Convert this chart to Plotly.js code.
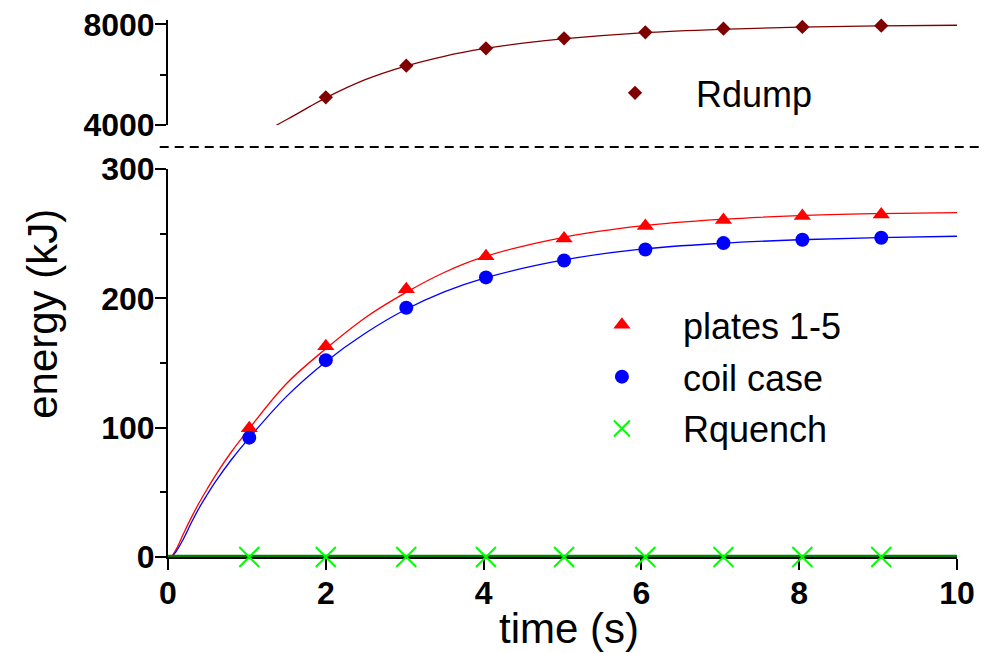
<!DOCTYPE html>
<html>
<head>
<meta charset="utf-8">
<script src="https://cdn.plot.ly/plotly-3.0.1.min.js"></script>
<style>
html,body{margin:0;padding:0;background:#fff;}
#chart{width:993px;height:653px;}
</style>
</head>
<body>
<div id="chart"></div>
<script>
// ---- data ----
const times = [1.03, 2.0, 3.02, 4.03, 5.02, 6.05, 7.04, 8.04, 9.04];
const platesVals = [99.5, 163, 207, 232.5, 246.3, 255.9, 260.5, 263.7, 264.9];
const coilVals = [92.3, 152.2, 192.7, 216.2, 229.3, 237.8, 242.7, 245.3, 246.9];
const rquenchVals = [0, 0, 0, 0, 0, 0, 0, 0, 0];
const rdumpTimes = [2.0, 3.02, 4.03, 5.02, 6.05, 7.04, 8.04, 9.04];
const rdumpVals = [5100, 6355, 7047, 7444, 7683, 7826, 7894, 7946];

// fitted curves
const curveT = [0, 0.05, 0.1, 0.2, 0.3, 0.4, 0.5, 0.6, 0.8, 1.0, 1.5, 2, 2.5, 3, 3.5, 4, 5, 6, 7, 8, 9, 10];
const platesFit = [0, 1, 5.5, 18.5, 31, 42.5, 53, 63, 81, 97, 134, 161, 185, 204, 220, 232, 247, 256, 261, 264, 265.5, 266.3];
const coilFit = [0, 0.5, 4, 14.5, 27, 38.5, 48.5, 58, 75, 90, 124, 151, 173, 191, 205, 215.5, 229.5, 238, 242.5, 245.3, 247, 248];
const rquenchLineT = [0, 10];
const rquenchLineV = [0, 0];
const rdumpFitT = [1.2, 1.38, 1.6, 1.8, 2, 2.5, 3, 3.5, 4, 4.5, 5, 6, 7, 8, 9, 10];
const rdumpFit = [3650, 4000, 4380, 4740, 5080, 5800, 6330, 6730, 7030, 7250, 7420, 7660, 7800, 7885, 7935, 7962];

const xTicks = [0, 2, 4, 6, 8, 10];
const yTicksLow = [0, 100, 200, 300];
const yTicksHigh = [4000, 8000];

const names = {plates: 'plates 1-5', coil: 'coil case', rquench: 'Rquench', rdump: 'Rdump'};

// ---- styling ----
const RED = '#ff0000', BLUE = '#0000ff', LIME = '#00ff00', DKGREEN = '#008000', MAROON = '#800000';
const FONT = 'Arial, "Liberation Sans", Helvetica, sans-serif';

const traces = [
  {x: curveT, y: platesFit, mode: 'lines', line: {color: RED, width: 1.3, shape: 'spline', smoothing: 1}, showlegend: false, hoverinfo: 'skip'},
  {x: curveT, y: coilFit, mode: 'lines', line: {color: BLUE, width: 1.3, shape: 'spline', smoothing: 1}, showlegend: false, hoverinfo: 'skip'},
  {x: rquenchLineT, y: rquenchLineV, mode: 'lines', line: {color: DKGREEN, width: 4.5}, showlegend: false, hoverinfo: 'skip'},
  {x: rdumpFitT, y: rdumpFit, xaxis: 'x', yaxis: 'y2', mode: 'lines', line: {color: MAROON, width: 1.3, shape: 'spline'}, showlegend: false, hoverinfo: 'skip'},

  {x: times, y: platesVals, name: names.plates, mode: 'markers', legend: 'legend2', legendgroup: 'a',
   marker: {symbol: 'triangle-up', size: 15, color: RED}, cliponaxis: false},
  {x: times, y: coilVals, name: names.coil, mode: 'markers', legend: 'legend2', legendgroup: 'b',
   marker: {symbol: 'circle', size: 14, color: BLUE}, cliponaxis: false},
  {x: times, y: rquenchVals, name: names.rquench, mode: 'markers', legend: 'legend2', legendgroup: 'c',
   marker: {symbol: 'x-thin-open', size: 20, color: LIME, line: {color: LIME, width: 2}}, cliponaxis: false},
  {x: rdumpTimes, y: rdumpVals, name: names.rdump, xaxis: 'x', yaxis: 'y2', mode: 'markers', legend: 'legend',
   marker: {symbol: 'diamond', size: 11, color: MAROON}, cliponaxis: false}
];

const axisCommon = {
  showgrid: false, zeroline: false, showline: true, linecolor: '#000', linewidth: 2,
  ticks: 'outside', ticklen: 11, tickwidth: 2, tickcolor: '#000',
  tickfont: {family: FONT, size: 32, color: '#000', weight: 'bold'},
  layer: 'below traces'
};

const layout = {
  width: 993, height: 653,
  margin: {l: 168, r: 36, t: 20, b: 96, pad: 0},
  paper_bgcolor: '#fff', plot_bgcolor: '#fff',
  font: {family: FONT, color: '#000'},
  xaxis: Object.assign({}, axisCommon, {
    range: [0, 10], tickmode: 'array', tickvals: xTicks, ticktext: xTicks.map(String),
    anchor: 'y', domain: [0, 1], ticklabelstandoff: -4
  }),
  yaxis: Object.assign({}, axisCommon, {
    range: [0, 300], tickmode: 'array', tickvals: yTicksLow, ticktext: yTicksLow.map(String),
    domain: [0, 0.7225], anchor: 'x', ticklabelstandoff: -6,
    minor: {dtick: 50, ticks: 'outside', ticklen: 6, tickwidth: 2, tickcolor: '#000', showgrid: false}
  }),
  yaxis2: Object.assign({}, axisCommon, {
    range: [4000, 8171], tickmode: 'array', tickvals: yTicksHigh, ticktext: yTicksHigh.map(String),
    domain: [0.8045, 1], anchor: 'x', ticklabelstandoff: -6,
    minor: {tickvals: [6000], ticks: 'outside', ticklen: 6, tickwidth: 2, tickcolor: '#000', showgrid: false}
  }),
  legend: {
    x: 0.5146, y: 0.92, xanchor: 'left', yanchor: 'top', bgcolor: 'rgba(0,0,0,0)',
    font: {family: FONT, size: 36, color: '#000'}, itemwidth: 112
  },
  legend2: {
    x: 0.498, y: 0.488, xanchor: 'left', yanchor: 'top', bgcolor: 'rgba(0,0,0,0)',
    font: {family: FONT, size: 36, color: '#000'}, itemwidth: 112, tracegroupgap: 2, traceorder: 'grouped'
  },
  shapes: [
    {type: 'line', xref: 'paper', yref: 'paper', x0: -0.0105, x1: 1.0317, y0: 0.7635, y1: 0.7635,
     line: {color: '#000', width: 2, dash: '9px,6px'}}
  ],
  annotations: [
    {text: 'energy (kJ)', xref: 'paper', yref: 'paper', x: -0.159, y: 0.452, textangle: -90,
     showarrow: false, xanchor: 'center', yanchor: 'middle', font: {family: FONT, size: 42, color: '#000'}},
    {text: 'time (s)', xref: 'paper', yref: 'paper', x: 0.508, y: -0.133,
     showarrow: false, xanchor: 'center', yanchor: 'middle', font: {family: FONT, size: 42, color: '#000'}}
  ]
};

Plotly.newPlot('chart', traces, layout, {displayModeBar: false, staticPlot: true});
</script>
</body>
</html>
